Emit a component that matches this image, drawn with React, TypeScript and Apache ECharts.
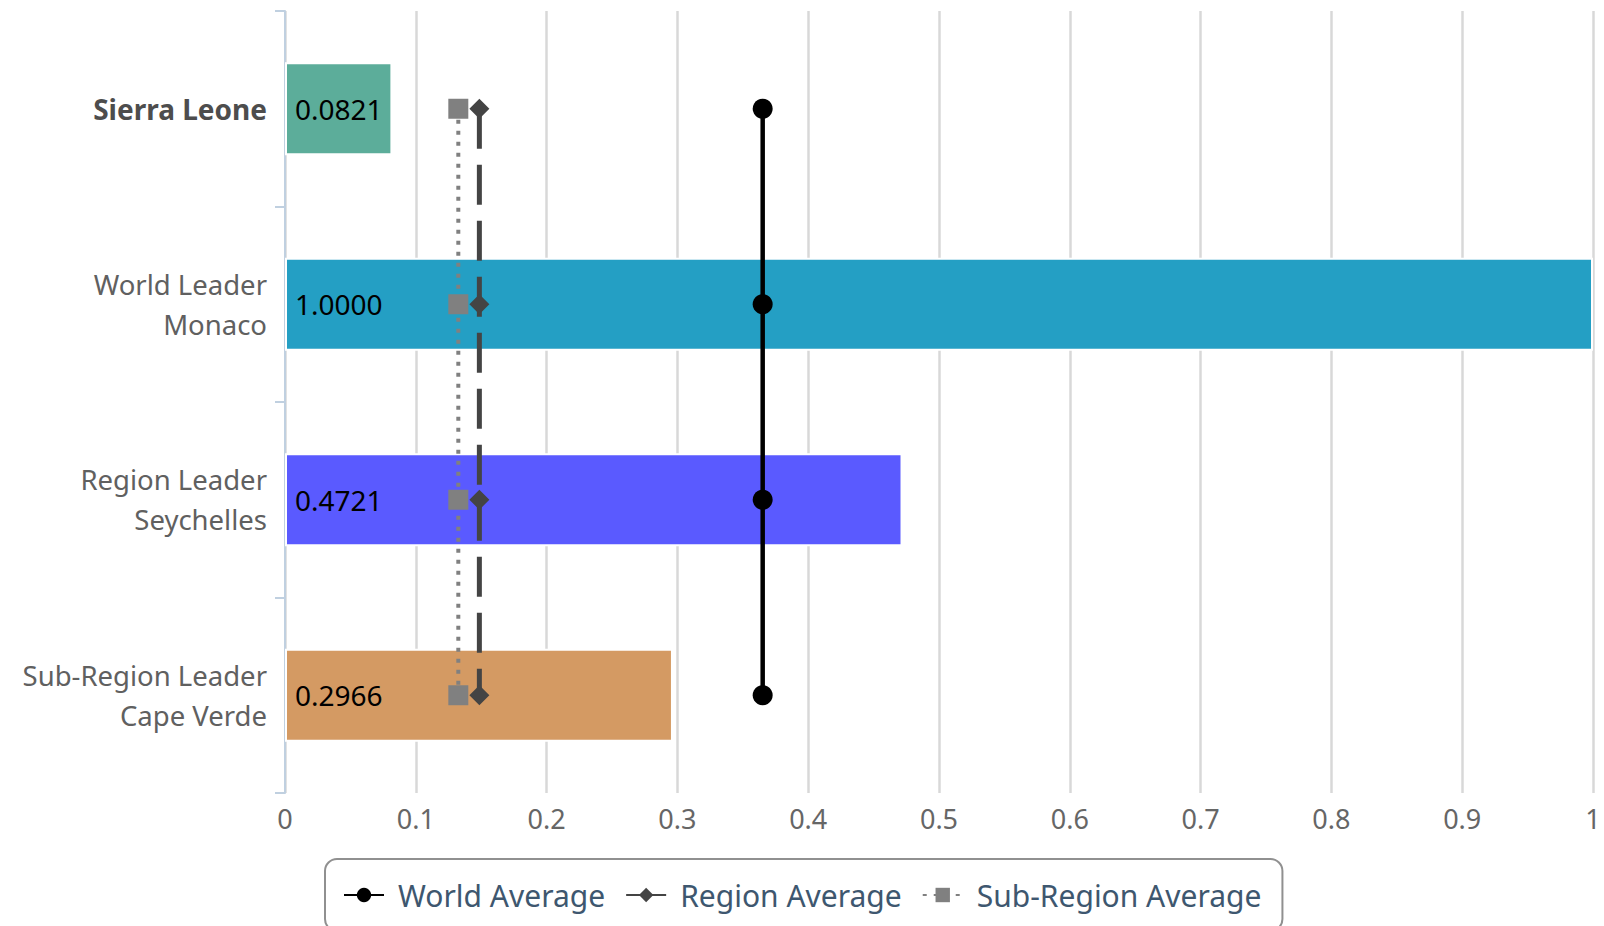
import React, { useEffect, useRef } from "react";
import * as echarts from "echarts";

const categories = ["Sierra Leone", "World Leader\nMonaco", "Region Leader\nSeychelles", "Sub-Region Leader\nCape Verde"];
const barValues = [0.0821, 1.0, 0.4721, 0.2966];
const barColors = ["#5cad9a", "#249fc4", "#5a5aff", "#d49a63"];
const worldAverage = [0.3652, 0.3652, 0.3652, 0.3652];
const regionAverage = [0.1486, 0.1486, 0.1486, 0.1486];
const subRegionAverage = [0.1325, 0.1325, 0.1325, 0.1325];
const xTicks = [0, 0.1, 0.2, 0.3, 0.4, 0.5, 0.6, 0.7, 0.8, 0.9, 1];
const legendNames = ["World Average", "Region Average", "Sub-Region Average"];
const legendTextWidths = [205, 221, 290];

const FONT = "'Noto Sans', 'DejaVu Sans', sans-serif";

export default function App() {
  const ref = useRef<HTMLDivElement>(null);
  useEffect(() => {
    document.body.style.margin = "0";
    if (!ref.current) return;
    const chart = echarts.init(ref.current, undefined, { renderer: "svg" });
    chart.setOption({
      animation: false,
      textStyle: { fontFamily: FONT },
      grid: { left: 285, right: 11, top: 11, bottom: 133, containLabel: false },
      xAxis: {
        type: "value",
        min: 0,
        max: 1,
        interval: 0.1,
        axisLine: { show: false },
        axisTick: { show: false },
        splitLine: { show: true, lineStyle: { color: "#d8d8d8", width: 2.5 } },
        axisLabel: {
          color: "#666",
          fontSize: 27,
          fontFamily: FONT,
          margin: 12,
          formatter: (v: number) => {
            const t = xTicks.find((x) => Math.abs(x - v) < 1e-9);
            return t === undefined ? "" : String(t);
          },
        },
      },
      yAxis: {
        type: "category",
        inverse: true,
        data: categories,
        axisLine: { show: true, lineStyle: { color: "#c0d0e0", width: 2 } },
        axisTick: { show: true, length: 10, lineStyle: { color: "#c0d0e0", width: 2 } },
        axisLabel: {
          margin: 18,
          fontSize: 27.5,
          lineHeight: 40,
          color: "#606060",
          fontFamily: FONT,
          formatter: (v: string, i: number) => (i === 0 ? "{b|" + v + "}" : v),
          rich: {
            b: { fontWeight: "bold", fontSize: 28, color: "#4d4d4d", fontFamily: FONT },
          },
        },
      },
      legend: {
        left: 325,
        top: 859,
        orient: "horizontal",
        padding: [21, 21, 21, 18],
        itemGap: 20,
        itemWidth: 40,
        itemHeight: 18,
        borderColor: "#909090",
        borderWidth: 2,
        borderRadius: 12,
        textStyle: { fontSize: 30, color: "#3e576f", fontFamily: FONT, padding: [0, 0, 0, 9] },
        data: legendNames.map((n, i) => ({ name: n, textStyle: { width: legendTextWidths[i], overflow: "none" } })),
      },
      series: [
        {
          type: "bar",
          name: "Country",
          data: barValues.map((v, i) => ({ value: v, itemStyle: { color: barColors[i] } })),
          barWidth: "47.5%",
          itemStyle: { borderColor: "#ffffff", borderWidth: 2 },
          label: {
            show: true,
            position: "insideLeft",
            distance: 10,
            color: "#000",
            fontSize: 28,
            fontFamily: FONT,
            formatter: (p: any) => Number(p.value).toFixed(4),
          },
          z: 2,
        },
        {
          type: "line",
          name: "World Average",
          data: worldAverage,
          symbol: "circle",
          symbolSize: 20,
          lineStyle: { color: "#000", width: 4.5 },
          itemStyle: { color: "#000" },
          z: 5,
        },
        {
          type: "line",
          name: "Region Average",
          data: regionAverage,
          symbol: "diamond",
          symbolSize: 20,
          lineStyle: { color: "#444", width: 5, type: [40, 16] },
          itemStyle: { color: "#444" },
          z: 5,
        },
        {
          type: "line",
          name: "Sub-Region Average",
          data: subRegionAverage,
          symbol: "rect",
          symbolSize: 20,
          lineStyle: { color: "#808080", width: 4, type: [4, 7] },
          itemStyle: { color: "#808080" },
          z: 5,
        },
      ],
    });
    return () => chart.dispose();
  }, []);
  return <div ref={ref} style={{ width: 1604, height: 926 }} />;
}
